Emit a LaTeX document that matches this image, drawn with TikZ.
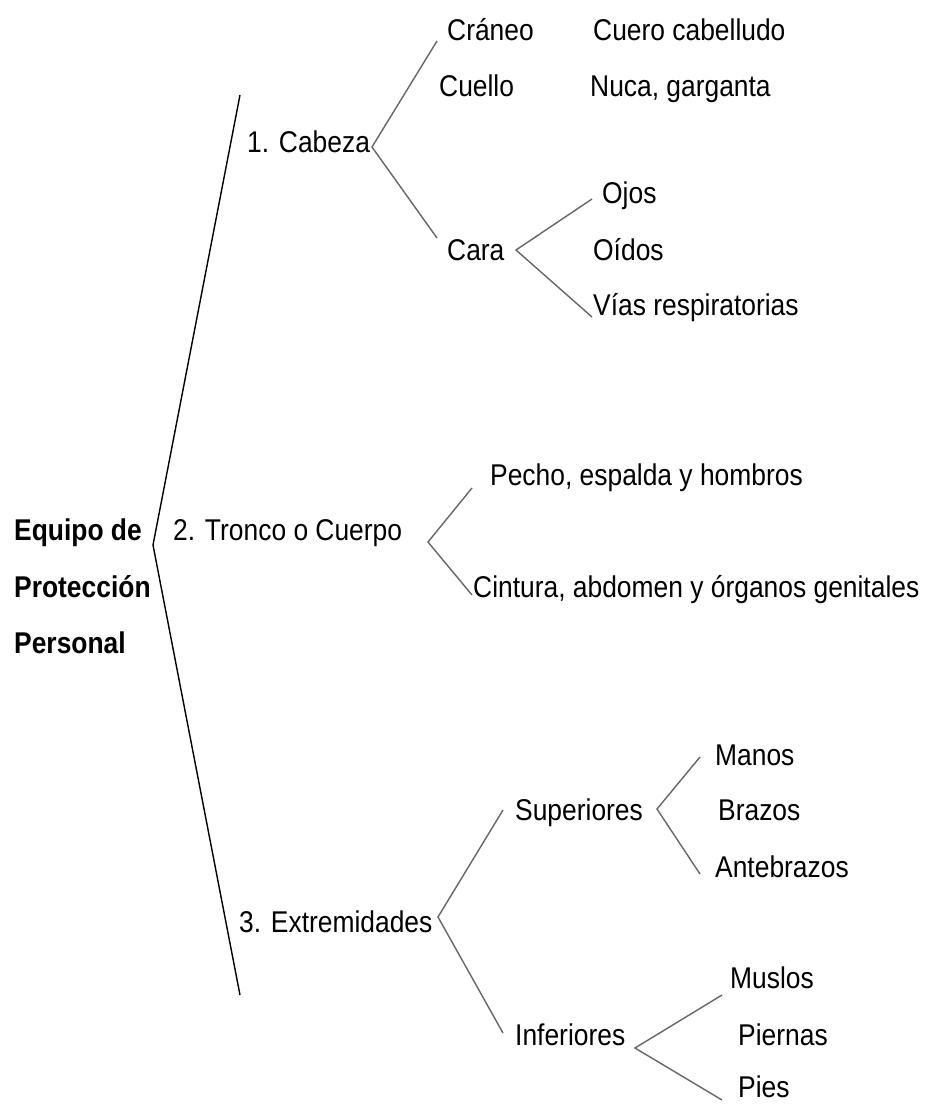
\documentclass[tikz,border=0pt]{standalone}
\usepackage{fontspec}
\setmainfont[FakeStretch=0.88]{Liberation Sans}
\begin{document}
\begin{tikzpicture}[x=1pt,y=-1pt,
	item/.style={anchor=base west,inner sep=0pt,font=\fontsize{30}{32}\selectfont},
	root/.style={item,font=\fontsize{30}{32}\selectfont\bfseries},
	brk/.style={draw=black!60,line width=1.4pt},
	mainbrk/.style={draw=black,line width=1.4pt}]
	\useasboundingbox (0,0) rectangle (929,1104);
	% titulo
	\node[root] (equipo) at (14,540) {Equipo de};
	\node[root] (proteccion) at (14,597) {Protección};
	\node[root] (personal) at (14,653) {Personal};
	% primer nivel
	\node[item] (cabeza) at (247,152) {1. Cabeza};
	\node[item] (tronco) at (173,540) {2. Tronco o Cuerpo};
	\node[item] (extrem) at (239,932) {3. Extremidades};
	% cabeza
	\node[item] (craneo) at (447,40) {Cráneo};
	\node[item] (cuero) at (593,40) {Cuero cabelludo};
	\node[item] (cuello) at (439,96) {Cuello};
	\node[item] (nuca) at (590,96) {Nuca, garganta};
	\node[item] (cara) at (447,260) {Cara};
	\node[item] (ojos) at (602,203) {Ojos};
	\node[item] (oidos) at (593,260) {Oídos};
	\node[item] (vias) at (593,315) {Vías respiratorias};
	% tronco
	\node[item] (pecho) at (490,485) {Pecho, espalda y hombros};
	\node[item] (cintura) at (473,597) {Cintura, abdomen y órganos genitales};
	% extremidades
	\node[item] (sup) at (515,820) {Superiores};
	\node[item] (inf) at (515,1045) {Inferiores};
	\node[item] (manos) at (715,765) {Manos};
	\node[item] (brazos) at (718,820) {Brazos};
	\node[item] (antebr) at (715,877) {Antebrazos};
	\node[item] (muslos) at (730,988) {Muslos};
	\node[item] (piernas) at (738,1045) {Piernas};
	\node[item] (pies) at (738,1097) {Pies};
	% llaves
	\coordinate (eppV) at (153,545);
	\coordinate (eppT) at (240,95);
	\coordinate (eppB) at (240,995);
	\coordinate (cabV) at (372,147);
	\coordinate (cabT) at (437,41);
	\coordinate (cabB) at (437,238);
	\coordinate (carV) at (516,250);
	\coordinate (carT) at (592,199);
	\coordinate (carB) at (592,317);
	\coordinate (troV) at (428,542);
	\coordinate (troT) at (472,488);
	\coordinate (troB) at (472,595);
	\coordinate (extV) at (438,917);
	\coordinate (extT) at (503,810);
	\coordinate (extB) at (503,1033);
	\coordinate (supV) at (657,809);
	\coordinate (supT) at (700,757);
	\coordinate (supB) at (700,874);
	\coordinate (infV) at (635,1048);
	\coordinate (infT) at (722,995);
	\coordinate (infB) at (722,1100);
	\draw[mainbrk] (eppT) -- (eppV) -- (eppB);
	\draw[brk] (cabT) -- (cabV) -- (cabB);
	\draw[brk] (carT) -- (carV) -- (carB);
	\draw[brk] (troT) -- (troV) -- (troB);
	\draw[brk] (extT) -- (extV) -- (extB);
	\draw[brk] (supT) -- (supV) -- (supB);
	\draw[brk] (infT) -- (infV) -- (infB);
\end{tikzpicture}
\end{document}
